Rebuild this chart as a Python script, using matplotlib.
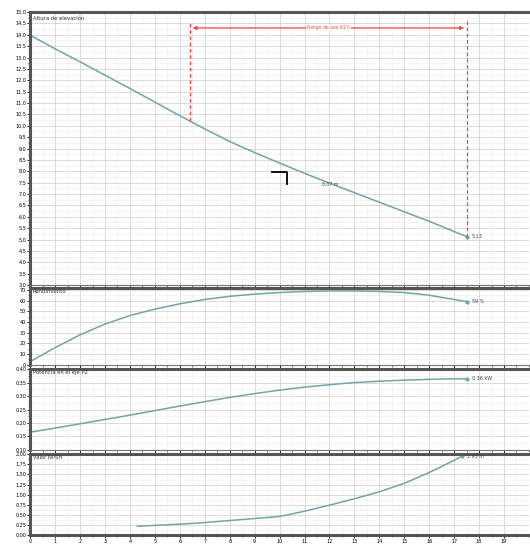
import numpy as np
import matplotlib
matplotlib.use("Agg")
import matplotlib.pyplot as plt
from matplotlib.ticker import MultipleLocator

# caudal Q [m3/h]
q_head = [0, 1, 2, 3, 4, 5, 6, 7, 8, 9, 10, 11, 12, 13, 14, 15, 16, 17, 17.5]
head = [13.98, 13.38, 12.81, 12.22, 11.64, 11.04, 10.44, 9.86, 9.31, 8.82,
        8.36, 7.91, 7.48, 7.06, 6.64, 6.22, 5.80, 5.35, 5.13]

q_eff = [0, 1, 2, 3, 4, 5, 6, 7, 8, 9, 10, 11, 12, 13, 14, 15, 16, 17, 17.5]
eff = [3, 16, 28, 38, 46, 52, 57, 61, 64, 66, 67.5, 68.5, 69, 69, 68.5, 67.5, 65, 61, 59]

q_pow = [0, 1, 2, 3, 4, 5, 6, 7, 8, 9, 10, 11, 12, 13, 14, 15, 16, 17, 17.5]
power = [0.166, 0.181, 0.197, 0.213, 0.229, 0.246, 0.263, 0.279, 0.295, 0.309,
         0.322, 0.333, 0.342, 0.350, 0.355, 0.359, 0.362, 0.364, 0.364]

q_npsh = [4.3, 5, 6, 7, 8, 9, 10, 11, 12, 13, 14, 15, 16, 17, 17.3]
npsh = [0.22, 0.24, 0.27, 0.31, 0.36, 0.41, 0.46, 0.59, 0.74, 0.90, 1.07, 1.28, 1.55, 1.85, 1.95]

range_q = [6.4, 17.5]
range_h = [10.2, 5.13]
duty_q, duty_h = 10.3, 7.95

titles = ["Altura de elevación", "Rendimiento", "Potencia en el eje P2", "Valor NPSH"]
end_labels = ["5.13", "59 %", "0.36 kW", "1.95 m"]
x_ticks = list(range(0, 20))

curve_col = "#6fa6a6"
red = "#ff4040"

fig = plt.figure(figsize=(5.3, 5.46), dpi=100)
boxes = [(0.978, 0.478), (0.473, 0.332), (0.324, 0.176), (0.168, 0.020)]
axes = []
for top, bot in boxes:
    ax = fig.add_axes([0.057, bot, 0.941, top - bot])
    axes.append(ax)

ylims = [(3, 15), (0, 72), (0.1, 0.4), (0, 2.0)]
ysteps = [0.5, 10, 0.05, 0.25]
datasets = [(q_head, head), (q_eff, eff), (q_pow, power), (q_npsh, npsh)]

for i, ax in enumerate(axes):
    ax.set_xlim(0, 20)
    ax.set_ylim(*ylims[i])
    ax.set_xticks(x_ticks)
    ax.xaxis.set_minor_locator(MultipleLocator(0.5))
    ax.yaxis.set_major_locator(MultipleLocator(ysteps[i]))
    ax.yaxis.set_minor_locator(MultipleLocator(ysteps[i] / 2))
    ax.grid(which="major", color="#d4d4d4", lw=0.6)
    ax.grid(which="minor", color="#ececec", lw=0.4)
    ax.tick_params(labelsize=3.5, length=2, width=0.6, pad=1)
    ax.tick_params(which="minor", length=1.2, width=0.4)
    for s in ["top", "left"]:
        ax.spines[s].set_linewidth(2.2)
        ax.spines[s].set_color("#555555")
    ax.spines["right"].set_visible(False)
    ax.spines["bottom"].set_linewidth(0.8)
    ax.spines["bottom"].set_color("#777777")
    if i < 3:
        ax.tick_params(axis="x", labelbottom=False)
    else:
        ax.spines["bottom"].set_linewidth(2.2)
        ax.spines["bottom"].set_color("#555555")
    x, y = datasets[i]
    ax.plot(x, y, color=curve_col, lw=1.1)
    ax.plot(x[-1], y[-1], "o", color=curve_col, ms=2)
    ax.text(x[-1] + 0.2, y[-1], end_labels[i], fontsize=3.5, color="#444444", va="center")
    ax.text(0.005, 0.985, titles[i], transform=ax.transAxes, fontsize=3.8,
            va="top", ha="left", color="#333333")

ax = axes[0]
for qv, hv in zip(range_q, range_h):
    ax.plot([qv, qv], [hv, 14.6], color=red, ls=(0, (3, 2)), lw=0.9)
ax.annotate("", xy=(range_q[0], 14.3), xytext=(range_q[1], 14.3),
            arrowprops=dict(arrowstyle="<|-|>", color=red, lw=0.9, mutation_scale=5))
ax.text(sum(range_q) / 2, 14.3, "Rango de uso 61%", fontsize=3.3, color=red,
        ha="center", va="center", bbox=dict(fc="white", ec="none", pad=0.5))
ax.plot([duty_q - 0.6, duty_q, duty_q], [duty_h, duty_h, duty_h - 0.5], color="black", lw=1.3)
ax.text(duty_q + 1.4, duty_h - 0.55, "8.07 m", fontsize=3.3, color="#444444", va="center")

fig.savefig("out.png", dpi=100)
